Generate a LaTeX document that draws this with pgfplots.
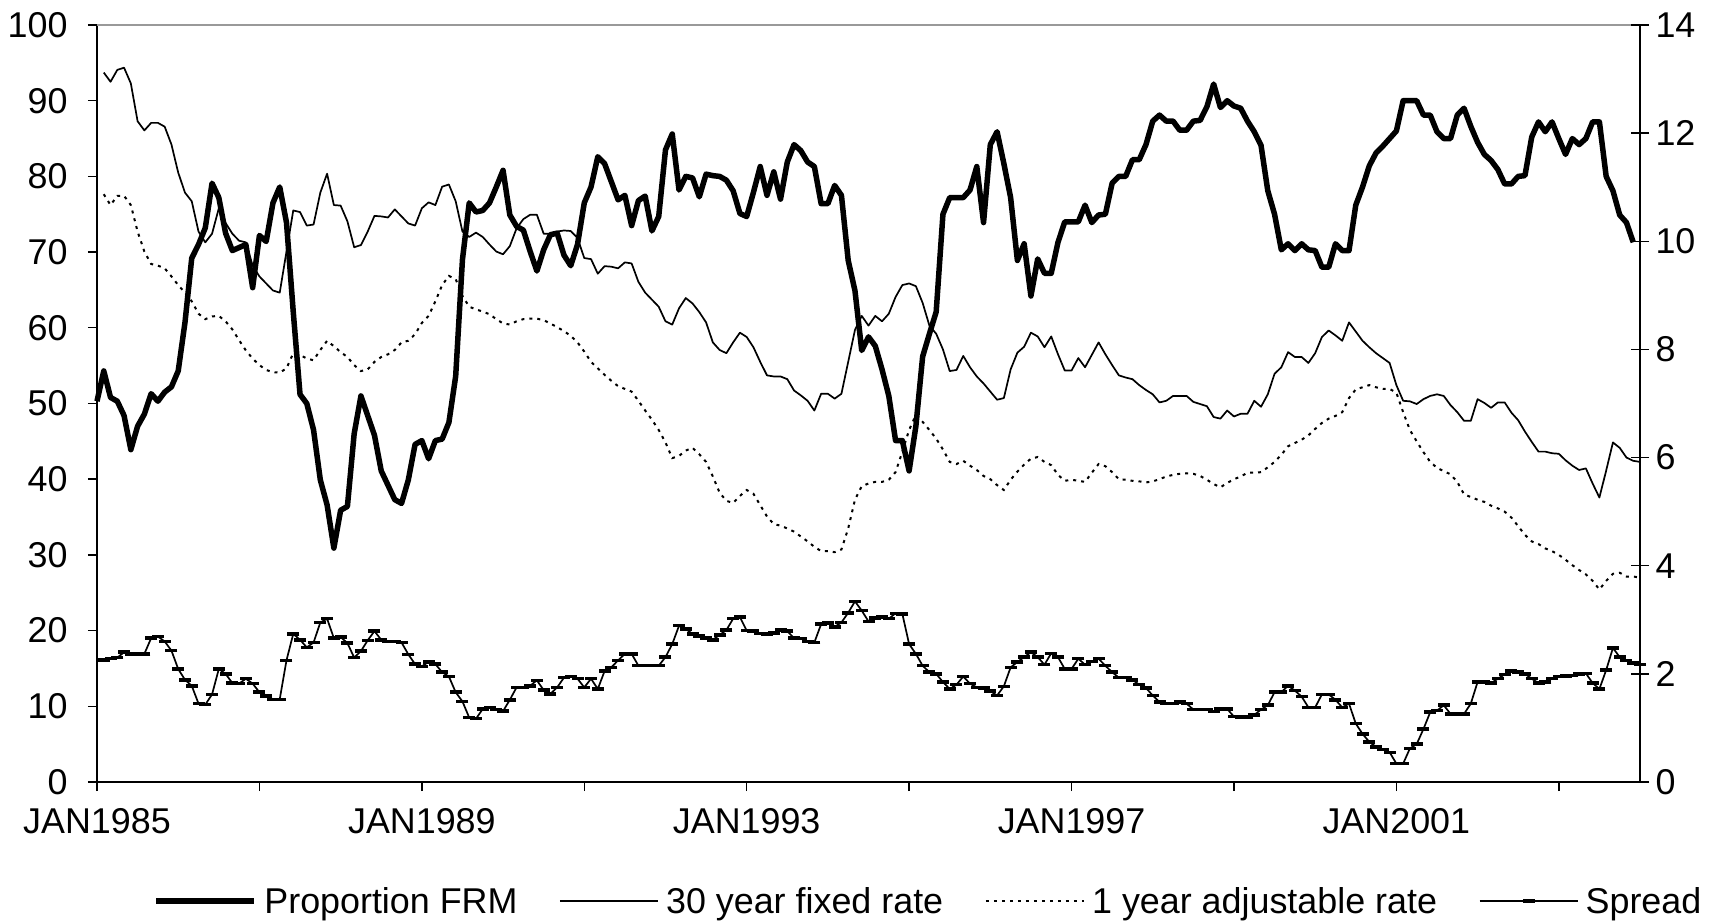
\documentclass[border=0pt]{standalone}
\usepackage{pgfplots}
\usepackage{pgfplotstable}
\pgfplotsset{compat=1.18}
\usepackage{fontspec}
\setmainfont{Liberation Sans}

% m = months since JAN1985; frm on left axis (percent), rates on right axis
\pgfplotstableread{
m frm fix adj spr
0 50.3 nan nan nan
1 54.3 13.12 10.87 2.26
2 50.8 12.95 10.67 2.28
3 50.3 13.17 10.84 2.30
4 48.4 13.21 10.84 2.40
5 43.9 12.92 10.67 2.37
6 47.0 12.22 10.18 2.37
7 48.6 12.05 9.81 2.37
8 51.3 12.19 9.58 2.66
9 50.3 12.19 9.55 2.69
10 51.5 12.12 9.50 2.60
11 52.2 11.79 9.35 2.43
12 54.3 11.27 9.19 2.09
13 60.7 10.90 9.05 1.89
14 69.2 10.74 8.89 1.78
15 71.0 10.18 8.66 1.45
16 73.2 9.98 8.56 1.43
17 79.1 10.14 8.61 1.62
18 77.2 10.61 8.62 2.09
19 72.5 10.34 8.52 2.00
20 70.2 10.14 8.37 1.83
21 70.6 10.01 8.17 1.82
22 71.0 9.98 7.98 1.91
23 65.3 9.55 7.83 1.82
24 72.2 9.35 7.71 1.66
25 71.4 9.22 7.62 1.59
26 76.5 9.09 7.58 1.53
27 78.6 9.05 7.57 1.53
28 73.9 9.81 7.65 2.25
29 62.1 10.57 7.93 2.74
30 51.2 10.54 7.90 2.63
31 50.0 10.29 7.83 2.49
32 46.5 10.31 7.80 2.58
33 39.9 10.90 7.99 2.95
34 36.6 11.25 8.16 3.02
35 30.9 10.67 8.06 2.66
36 35.9 10.66 7.95 2.68
37 36.4 10.37 7.86 2.57
38 46.0 9.89 7.71 2.30
39 51.0 9.93 7.60 2.42
40 48.4 10.18 7.63 2.62
41 45.8 10.47 7.77 2.79
42 41.1 10.46 7.86 2.63
43 39.2 10.44 7.91 2.60
44 37.3 10.59 7.99 2.60
45 36.8 10.46 8.13 2.58
46 39.9 10.33 8.16 2.36
47 44.6 10.29 8.28 2.18
48 45.1 10.61 8.49 2.14
49 42.7 10.72 8.62 2.22
50 45.1 10.67 8.89 2.18
51 45.3 11.01 9.19 2.03
52 47.5 11.05 9.36 1.95
53 53.6 10.74 9.30 1.66
54 69.0 10.18 8.99 1.49
55 76.5 10.08 8.79 1.19
56 75.3 10.16 8.74 1.17
57 75.5 10.08 8.70 1.35
58 76.5 9.94 8.65 1.38
59 78.6 9.81 8.56 1.34
60 80.8 9.76 8.48 1.31
61 74.9 9.91 8.46 1.52
62 73.4 10.24 8.52 1.75
63 72.9 10.41 8.56 1.75
64 70.1 10.49 8.57 1.78
65 67.5 10.49 8.57 1.88
66 70.3 10.14 8.54 1.70
67 72.3 10.14 8.48 1.63
68 72.5 10.18 8.41 1.75
69 69.6 10.20 8.34 1.93
70 68.2 10.19 8.25 1.95
71 71.0 10.06 8.13 1.91
72 76.5 9.69 7.96 1.75
73 78.6 9.67 7.77 1.91
74 82.6 9.40 7.65 1.72
75 81.7 9.54 7.53 2.05
76 79.3 9.53 7.42 2.12
77 76.9 9.50 7.32 2.25
78 77.5 9.61 7.27 2.37
79 73.5 9.59 7.22 2.37
80 76.8 9.25 7.05 2.15
81 77.4 9.05 6.87 2.15
82 72.8 8.92 6.70 2.15
83 74.7 8.79 6.51 2.15
84 83.5 8.52 6.28 2.31
85 85.6 8.46 5.99 2.55
86 78.2 8.76 6.03 2.89
87 80.0 8.95 6.13 2.83
88 79.8 8.85 6.18 2.74
89 77.3 8.69 6.06 2.70
90 80.3 8.50 5.92 2.66
91 80.1 8.13 5.65 2.63
92 80.0 7.99 5.35 2.72
93 79.5 7.93 5.20 2.81
94 78.1 8.13 5.16 3.02
95 75.1 8.31 5.29 3.05
96 74.7 8.23 5.40 2.80
97 77.9 8.04 5.33 2.79
98 81.3 7.77 5.12 2.75
99 77.5 7.52 4.91 2.74
100 80.6 7.50 4.77 2.76
101 77.0 7.50 4.74 2.81
102 81.9 7.45 4.69 2.79
103 84.2 7.24 4.63 2.66
104 83.4 7.15 4.54 2.65
105 81.9 7.05 4.45 2.60
106 81.3 6.87 4.35 2.58
107 76.4 7.18 4.27 2.92
108 76.4 7.18 4.27 2.94
109 78.8 7.09 4.25 2.87
110 77.5 7.18 4.30 2.95
111 68.9 7.77 4.69 3.13
112 64.9 8.36 5.22 3.34
113 57.0 8.62 5.47 3.17
114 58.8 8.44 5.52 2.97
115 57.6 8.62 5.55 3.03
116 54.5 8.52 5.55 3.05
117 51.0 8.66 5.59 3.02
118 45.1 8.97 5.73 3.12
119 45.1 9.19 6.11 3.11
120 41.1 9.22 6.51 2.55
121 47.0 9.17 6.79 2.37
122 56.2 8.86 6.66 2.15
123 59.2 8.44 6.51 2.03
124 62.1 8.29 6.35 2.00
125 75.0 8.00 6.15 1.85
126 77.2 7.60 5.92 1.72
127 77.2 7.62 5.88 1.80
128 77.2 7.88 5.94 1.95
129 78.2 7.67 5.85 1.82
130 81.3 7.50 5.77 1.75
131 73.9 7.37 5.66 1.74
132 84.2 7.22 5.60 1.68
133 85.9 7.07 5.49 1.60
134 81.7 7.10 5.40 1.77
135 77.2 7.63 5.59 2.12
136 68.9 7.94 5.74 2.22
137 71.1 8.05 5.87 2.31
138 64.2 8.31 5.98 2.40
139 69.1 8.24 6.01 2.31
140 67.2 8.04 5.92 2.17
141 67.2 8.24 5.86 2.38
142 71.3 7.91 5.68 2.31
143 74.0 7.61 5.57 2.09
144 74.0 7.61 5.59 2.09
145 74.0 7.84 5.57 2.28
146 76.2 7.67 5.55 2.17
147 73.9 7.90 5.72 2.23
148 74.9 8.13 5.88 2.28
149 75.0 7.91 5.84 2.15
150 79.1 7.71 5.73 2.03
151 80.0 7.52 5.60 1.93
152 80.0 7.48 5.59 1.93
153 82.2 7.45 5.57 1.89
154 82.2 7.34 5.56 1.80
155 84.2 7.25 5.54 1.74
156 87.3 7.17 5.56 1.60
157 88.1 7.02 5.60 1.48
158 87.3 7.05 5.65 1.45
159 87.3 7.14 5.68 1.45
160 86.1 7.14 5.70 1.48
161 86.1 7.14 5.71 1.45
162 87.3 7.03 5.70 1.34
163 87.4 6.99 5.66 1.34
164 89.2 6.95 5.59 1.34
165 92.2 6.75 5.51 1.30
166 89.1 6.72 5.45 1.35
167 90.0 6.87 5.53 1.35
168 89.3 6.76 5.60 1.21
169 89.0 6.81 5.65 1.20
170 87.3 6.81 5.72 1.20
171 85.9 7.05 5.72 1.24
172 84.1 6.94 5.73 1.34
173 78.1 7.17 5.82 1.42
174 75.0 7.55 5.92 1.66
175 70.3 7.67 6.05 1.66
176 71.1 7.95 6.21 1.78
177 70.2 7.86 6.27 1.69
178 71.1 7.86 6.33 1.58
179 70.3 7.75 6.41 1.38
180 70.2 7.93 6.53 1.38
181 68.0 8.23 6.64 1.62
182 68.0 8.35 6.72 1.62
183 71.1 8.26 6.77 1.52
184 70.2 8.16 6.84 1.38
185 70.2 8.50 7.10 1.45
186 76.2 8.33 7.26 1.08
187 78.6 8.16 7.30 0.89
188 81.4 8.04 7.34 0.74
189 83.1 7.93 7.30 0.65
190 84.0 7.84 7.27 0.60
191 85.0 7.75 7.27 0.55
192 86.0 7.34 7.20 0.34
193 90.0 7.05 6.84 0.34
194 90.0 7.04 6.51 0.62
195 90.0 6.99 6.30 0.70
196 88.1 7.08 6.10 0.98
197 88.1 7.14 5.92 1.29
198 85.9 7.17 5.81 1.32
199 85.0 7.14 5.75 1.42
200 85.0 6.97 5.69 1.26
201 88.1 6.84 5.55 1.26
202 89.0 6.68 5.32 1.26
203 86.6 6.68 5.27 1.45
204 84.5 7.08 5.22 1.85
205 82.9 7.01 5.18 1.85
206 82.1 6.92 5.11 1.83
207 80.9 7.02 5.06 1.91
208 79.0 7.02 5.00 1.99
209 79.0 6.83 4.89 2.05
210 80.0 6.69 4.73 2.03
211 80.1 6.48 4.57 2.00
212 85.2 6.29 4.45 1.91
213 87.2 6.11 4.40 1.83
214 85.9 6.11 4.32 1.85
215 87.2 6.08 4.27 1.91
216 85.0 6.07 4.20 1.95
217 82.9 5.95 4.11 1.96
218 85.0 5.85 4.01 1.97
219 84.2 5.77 3.92 2.00
220 85.0 5.80 3.84 2.01
221 87.2 5.52 3.72 1.83
222 87.2 5.26 3.56 1.72
223 80.0 5.76 3.72 2.07
224 78.1 6.28 3.85 2.48
225 74.9 6.18 3.87 2.31
226 73.9 6.00 3.80 2.25
227 71.3 5.94 3.80 2.20
228 nan 5.92 3.78 2.17
}\datatable

\pgfplotsset{
  basefont/.style={font=\fontsize{36}{43}\selectfont},
  frmstyle/.style={black, line width=5.5bp, line join=round},
  fixstyle/.style={black, line width=1.7bp, line join=round},
  adjstyle/.style={black, line width=2bp, dash pattern=on 3bp off 5bp},
  sprstyle/.style={black, line width=1.7bp, line join=round, mark=-, mark size=6bp,
    mark options={solid, line width=3.5bp}},
  common/.style={
    scale only axis, width=1543bp, height=757bp,
    xmin=0, xmax=228, clip=false,
    ticklabel style={basefont},
    /pgf/number format/assume math mode=true,
    axis line style={black, line width=1.6bp},
    tick style={black, line width=1.4bp},
  },
}

\begin{document}
\begin{tikzpicture}
\begin{axis}[
  common,
  ymin=0, ymax=100,
  axis x line*=bottom, axis y line*=left,
  xtick={0,24,...,216},
  xticklabels={JAN1985,,JAN1989,,JAN1993,,JAN1997,,JAN2001,},
  ytick={0,10,...,100},
  tick align=outside, major tick length=9bp,
  yticklabel style={xshift=-17bp},
  xticklabel style={yshift=-14bp},
]
\draw[color=black!40, line width=2bp] (rel axis cs:0,1) -- (rel axis cs:1,1);
\addplot[frmstyle] table[x=m, y=frm] {\datatable};
\end{axis}

\begin{axis}[
  common,
  ymin=0, ymax=14,
  axis x line=none, axis y line*=right,
  ytick={0,2,...,14},
  tick align=center, major tick length=18bp,
  yticklabel style={xshift=3bp},
  legend style={at={(0.0346,-0.157)}, anchor=west, draw=none, fill=none,
    basefont, legend columns=-1,
    /tikz/every odd column/.append style={column sep=3.3bp},
    /tikz/every even column/.append style={column sep=37.6bp},
    nodes={inner sep=4bp}},
  legend image code/.code={\draw[mark repeat=2, mark phase=2, #1]
    plot coordinates {(0bp,0bp) (49bp,0bp) (98bp,0bp)};},
]
\addlegendimage{frmstyle}
\addlegendentry{Proportion FRM}
\addplot[fixstyle] table[x=m, y=fix] {\datatable};
\addlegendentry{30 year fixed rate}
\addplot[adjstyle] table[x=m, y=adj] {\datatable};
\addlegendentry{1 year adjustable rate}
\addplot[sprstyle] table[x=m, y=spr] {\datatable};
\addlegendentry{Spread}
\end{axis}
\path (current axis.south west) ++(-97bp,-139bp) rectangle ++(1711bp,921bp);
\end{tikzpicture}
\end{document}
